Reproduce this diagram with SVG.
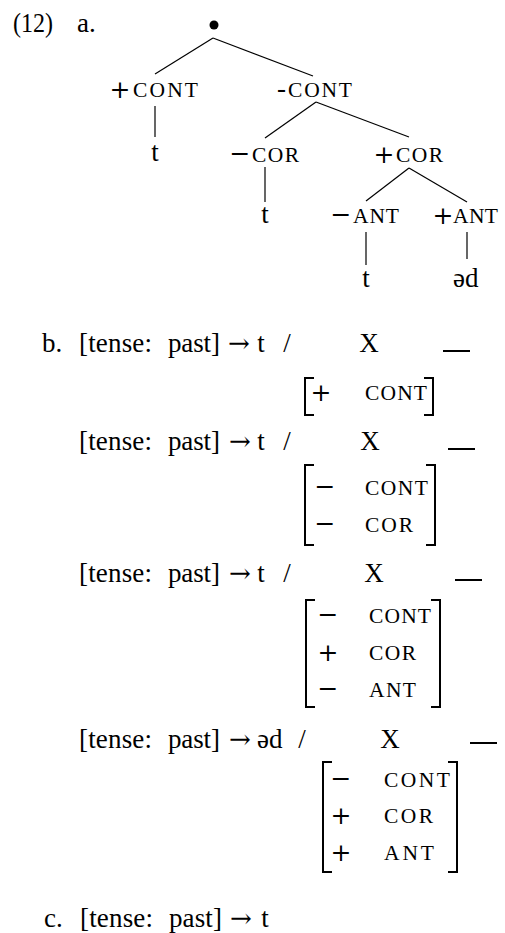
<svg xmlns="http://www.w3.org/2000/svg" width="505" height="933" viewBox="0 0 505 933">
<style>
text { font-family: "Liberation Serif", "DejaVu Serif", serif; fill: #000; }
.t { font-size: 27px; }
.m { text-anchor: middle; }
.ar { font-family: "DejaVu Serif", serif; font-size: 26px; text-anchor: middle; }
.sg { font-family: "DejaVu Serif", serif; font-size: 25px; text-anchor: middle; }
.sc { font-size: 21.5px; }
.ln { stroke: #000; stroke-width: 1.2; fill: none; }
.br { stroke: #000; stroke-width: 2; fill: none; }
.us { stroke: #000; stroke-width: 2; }
</style>
<rect width="505" height="933" fill="#fff"/>

<g id="label">
  <text class="t" x="13" y="32" textLength="40" lengthAdjust="spacingAndGlyphs">(12)</text>
  <text class="t" x="77" y="32">a.</text>
</g>

<g id="connectors">
  <path class="ln" d="M213,38 L155,74"/>
  <path class="ln" d="M213,38 L313,76"/>
  <path class="ln" d="M155,106 L155,137"/>
  <path class="ln" d="M316,102 L265,138"/>
  <path class="ln" d="M316,102 L409,137"/>
  <path class="ln" d="M265,167 L265,202"/>
  <path class="ln" d="M409,168 L366,201"/>
  <path class="ln" d="M409,168 L467,202"/>
  <path class="ln" d="M366,232 L366,265"/>
  <path class="ln" d="M467,232 L467,259"/>
</g>

<g id="root"><circle cx="214" cy="25" r="4.5" fill="#000"/></g>
<g id="plus-cont">
  <text class="sg" x="120" y="98">+</text>
  <text class="sc" x="133" y="97" textLength="65" lengthAdjust="spacing">CONT</text>
</g>
<g id="minus-cont">
  <text class="t" x="277" y="97">-</text>
  <text class="sc" x="288" y="97" textLength="64" lengthAdjust="spacing">CONT</text>
</g>
<g id="t1"><text class="t m" x="155" y="161">t</text></g>
<g id="minus-cor">
  <text class="sg" x="240" y="162">−</text>
  <text class="sc" x="252" y="162" textLength="47" lengthAdjust="spacing">COR</text>
</g>
<g id="plus-cor">
  <text class="sg" x="384" y="163">+</text>
  <text class="sc" x="396" y="162" textLength="47" lengthAdjust="spacing">COR</text>
</g>
<g id="t2"><text class="t m" x="265" y="223">t</text></g>
<g id="minus-ant">
  <text class="sg" x="341" y="223">−</text>
  <text class="sc" x="353" y="223" textLength="46" lengthAdjust="spacing">ANT</text>
</g>
<g id="plus-ant">
  <text class="sg" x="443" y="224">+</text>
  <text class="sc" x="453" y="223" textLength="45" lengthAdjust="spacing">ANT</text>
</g>
<g id="t3"><text class="t m" x="366" y="287">t</text></g>
<g id="ed"><text class="t" x="453" y="287">əd</text></g>

<g id="rule-b1">
  <text class="t" x="42" y="352">b.</text>
  <text class="t" x="79" y="352" textLength="73" lengthAdjust="spacing">[tense:</text>
  <text class="t" x="168" y="352" textLength="52" lengthAdjust="spacing">past]</text>
  <text class="ar" x="239" y="352">→</text>
  <text class="t m" x="261" y="352">t</text>
  <text class="t m" x="287" y="352">/</text>
  <text class="t m" x="369" y="352">X</text>
  <line class="us" x1="443" y1="351" x2="470" y2="351"/>
  <path class="br" d="M314,378 H305 V415 H314"/>
  <path class="br" d="M424,378 H433 V415 H424"/>
  <text class="sg" x="321" y="401">+</text>
  <text class="sc" x="365" y="400" textLength="62" lengthAdjust="spacing">CONT</text>
</g>

<g id="rule-b2">
  <text class="t" x="79" y="450" textLength="73" lengthAdjust="spacing">[tense:</text>
  <text class="t" x="168" y="450" textLength="52" lengthAdjust="spacing">past]</text>
  <text class="ar" x="240" y="450">→</text>
  <text class="t m" x="261" y="450">t</text>
  <text class="t m" x="287" y="450">/</text>
  <text class="t m" x="370" y="450">X</text>
  <line class="us" x1="448" y1="449" x2="475" y2="449"/>
  <path class="br" d="M314,465 H305 V545 H314"/>
  <path class="br" d="M426,465 H435 V545 H426"/>
  <text class="sg" x="325" y="495">−</text>
  <text class="sc" x="365" y="495" textLength="63" lengthAdjust="spacing">CONT</text>
  <text class="sg" x="325" y="532">−</text>
  <text class="sc" x="365" y="532" textLength="48" lengthAdjust="spacing">COR</text>
</g>

<g id="rule-b3">
  <text class="t" x="79" y="582" textLength="73" lengthAdjust="spacing">[tense:</text>
  <text class="t" x="168" y="582" textLength="52" lengthAdjust="spacing">past]</text>
  <text class="ar" x="240" y="582">→</text>
  <text class="t m" x="261" y="582">t</text>
  <text class="t m" x="287" y="582">/</text>
  <text class="t m" x="374" y="582">X</text>
  <line class="us" x1="455" y1="580" x2="482" y2="580"/>
  <path class="br" d="M315,600 H306 V707 H315"/>
  <path class="br" d="M431,600 H440 V707 H431"/>
  <text class="sg" x="328" y="623">−</text>
  <text class="sc" x="369" y="623" textLength="62" lengthAdjust="spacing">CONT</text>
  <text class="sg" x="328" y="661">+</text>
  <text class="sc" x="369" y="660" textLength="47" lengthAdjust="spacing">COR</text>
  <text class="sg" x="328" y="697">−</text>
  <text class="sc" x="369" y="697" textLength="47" lengthAdjust="spacing">ANT</text>
</g>

<g id="rule-b4">
  <text class="t" x="79" y="748" textLength="73" lengthAdjust="spacing">[tense:</text>
  <text class="t" x="168" y="748" textLength="52" lengthAdjust="spacing">past]</text>
  <text class="ar" x="240" y="748">→</text>
  <text class="t" x="257" y="748">əd</text>
  <text class="t m" x="302" y="748">/</text>
  <text class="t m" x="390" y="748">X</text>
  <line class="us" x1="470" y1="743" x2="497" y2="743"/>
  <path class="br" d="M332,762 H323 V872 H332"/>
  <path class="br" d="M448,762 H457 V872 H448"/>
  <text class="sg" x="341" y="787">−</text>
  <text class="sc" x="384" y="787" textLength="66" lengthAdjust="spacing">CONT</text>
  <text class="sg" x="341" y="824">+</text>
  <text class="sc" x="384" y="823" textLength="49" lengthAdjust="spacing">COR</text>
  <text class="sg" x="341" y="861">+</text>
  <text class="sc" x="384" y="860" textLength="50" lengthAdjust="spacing">ANT</text>
</g>

<g id="rule-c">
  <text class="t" x="44" y="927">c.</text>
  <text class="t" x="80" y="927" textLength="73" lengthAdjust="spacing">[tense:</text>
  <text class="t" x="169" y="927" textLength="53" lengthAdjust="spacing">past]</text>
  <text class="ar" x="241" y="927">→</text>
  <text class="t m" x="265" y="927">t</text>
</g>
</svg>
